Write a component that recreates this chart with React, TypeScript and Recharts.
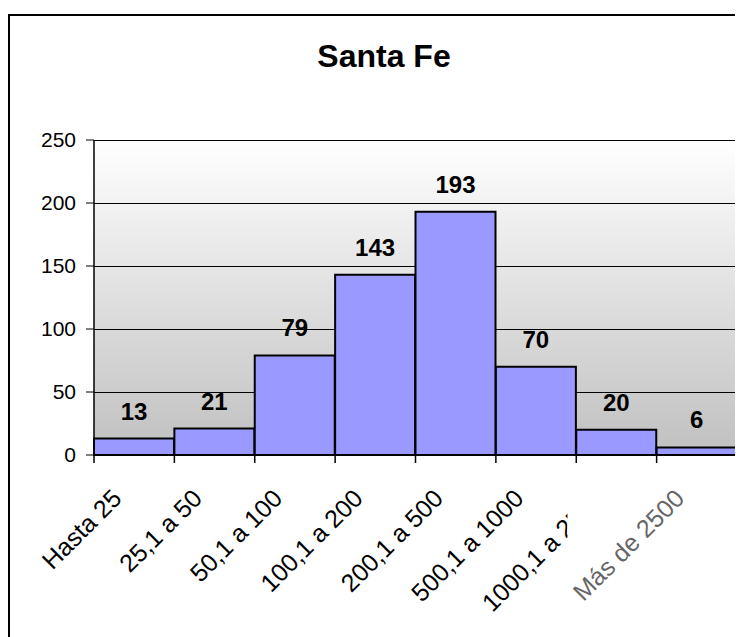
import React from 'react';
import {
  BarChart,
  Bar,
  XAxis,
  YAxis,
  CartesianGrid,
  LabelList,
} from 'recharts';

const CATEGORIES = [
  'Hasta 25',
  '25,1 a 50',
  '50,1 a 100',
  '100,1 a 200',
  '200,1 a 500',
  '500,1 a 1000',
  '1000,1 a 2500',
  'Más de 2500',
];
const COUNTS = [13, 21, 79, 143, 193, 70, 20, 6];
const Y_TICKS = [0, 50, 100, 150, 200, 250];

const data = CATEGORIES.map((name, i) => ({ name, value: COUNTS[i] }));

const FONT = '"Liberation Sans", Arial, sans-serif';

// Category label plus the tick marks, which sit on the class boundaries
// (half a band to each side of the label) rather than on the bar centres.
function CategoryTick(props: any) {
  const { x, y, payload, index } = props;
  const half = payload.offset || 0;
  const ax = x - 11;
  const ay = y + 45;
  const clipped = index === 6;
  const last = index === CATEGORIES.length - 1;
  return (
    <g>
      <line x1={x - half} x2={x - half} y1={y} y2={y + 8} stroke="#000" strokeWidth={1.5} />
      {last && (
        <line x1={x + half} x2={x + half} y1={y} y2={y + 8} stroke="#000" strokeWidth={1.5} />
      )}
      {clipped && (
        <defs>
          <clipPath id="cut-label">
            <rect x={ax - 220} y={ay - 200} width={182} height={400} />
          </clipPath>
        </defs>
      )}
      {/* the long 1000-2500 label is cut off by a vertical edge */}
      <g clipPath={clipped ? 'url(#cut-label)' : undefined}>
        <text
          x={ax}
          y={ay}
          transform={`rotate(-45, ${ax}, ${ay})`}
          textAnchor="end"
          fontFamily={FONT}
          fontSize={25}
          fill={last ? '#666' : '#000'}
        >
          {payload.value}
        </text>
      </g>
    </g>
  );
}

export default function App() {
  return (
    <div style={{ paddingTop: 6 }}>
      <div
        style={{
          position: 'relative',
          borderLeft: '2px solid #000',
          borderTop: '2px solid #000',
          width: 733,
          height: 621,
          fontFamily: FONT,
        }}
      >
        <div
          style={{
            position: 'absolute',
            left: 374,
            top: 24,
            transform: 'translateX(-50%)',
            fontSize: 32,
            lineHeight: '32px',
            fontWeight: 'bold',
            whiteSpace: 'nowrap',
          }}
        >
          Santa Fe
        </div>
        <BarChart
          width={733}
          height={621}
          data={data}
          margin={{ top: 124, right: 0, bottom: 0, left: 0 }}
          barCategoryGap={0}
        >
          <defs>
            <linearGradient id="plotBg" x1="0" y1="0" x2="0" y2="1">
              <stop offset="0%" stopColor="#ffffff" />
              <stop offset="100%" stopColor="#c0c0c0" />
            </linearGradient>
          </defs>
          <CartesianGrid
            vertical={false}
            stroke="#000"
            strokeWidth={1}
            shapeRendering="crispEdges"
            fill="url(#plotBg)"
            fillOpacity={1}
          />
          <XAxis
            dataKey="name"
            interval={0}
            height={182}
            tickSize={0}
            tickMargin={0}
            tickLine={false}
            axisLine={{ stroke: '#000', strokeWidth: 2 }}
            tick={<CategoryTick />}
          />
          <XAxis
            xAxisId="top"
            dataKey="name"
            orientation="top"
            height={0}
            tick={false}
            tickLine={false}
            axisLine={{ stroke: '#808080', strokeWidth: 2 }}
          />
          <YAxis
            domain={[0, 250]}
            ticks={Y_TICKS}
            width={84}
            tickSize={8}
            tickMargin={10}
            tickLine={{ stroke: '#000', strokeWidth: 1 }}
            axisLine={{ stroke: '#000', strokeWidth: 1.5 }}
            tick={{ fill: '#000', fontSize: 21, fontFamily: FONT }}
          />
          <YAxis
            yAxisId="right"
            orientation="right"
            width={6}
            tick={false}
            tickLine={false}
            axisLine={{ stroke: '#808080', strokeWidth: 2 }}
          />
          <Bar
            dataKey="value"
            fill="#9999ff"
            stroke="#000"
            strokeWidth={2}
            isAnimationActive={false}
          >
            <LabelList
              dataKey="value"
              position="top"
              offset={19}
              fill="#000"
              fontSize={24}
              fontWeight="bold"
              fontFamily={FONT}
            />
          </Bar>
        </BarChart>
      </div>
    </div>
  );
}
